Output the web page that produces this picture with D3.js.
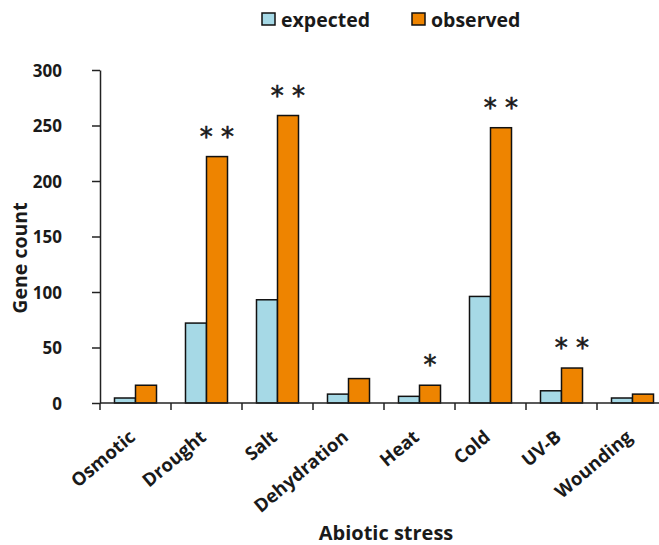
<!DOCTYPE html>
<html lang="en">
<head>
<meta charset="utf-8">
<title>Gene count by abiotic stress</title>
<script src="https://d3js.org/d3.v7.min.js"></script>
<style>
  body { margin: 0; background: #fff; }
  text { font-family: "Open Sans", sans-serif; font-weight: bold; fill: #1a1a1a; }
  .axis path, .axis line { stroke: #222; stroke-width: 1.5px; }
</style>
</head>
<body>
<div id="chart"></div>
<script>
// data
const categories = ["Osmotic", "Drought", "Salt", "Dehydration", "Heat", "Cold", "UV-B", "Wounding"];
const expected = [4.5, 72, 93, 8, 6, 96, 11, 4.5];
const observed = [16, 222, 259, 22, 16, 248, 31.5, 8];
const stars = ["", "* *", "* *", "", "*", "* *", "* *", ""];
const yTicks = [0, 50, 100, 150, 200, 250, 300];
const seriesNames = ["expected", "observed"];
const colors = { expected: "#a6d9e6", observed: "#ee8400" };

const W = 659, H = 545;
const plotLeft = 100, plotTop = 70, plotBottom = 403;

const svg = d3.select("#chart").append("svg")
  .attr("width", W).attr("height", H);

const x = d3.scaleBand()
  .domain(categories)
  .range([plotLeft, plotLeft + 71 * categories.length])
  .padding(0);

const xSub = d3.scaleBand()
  .domain(seriesNames)
  .range([0, x.bandwidth()])
  .paddingInner(0)
  .paddingOuter(0.69);

const y = d3.scaleLinear().domain([0, 300]).range([plotBottom, plotTop]);

const rows = categories.map((c, i) => ({ cat: c, expected: expected[i], observed: observed[i], star: stars[i] }));

// bars
const groups = svg.append("g").selectAll("g")
  .data(rows).join("g")
  .attr("transform", d => `translate(${x(d.cat)},0)`);

groups.selectAll("rect")
  .data(d => seriesNames.map(k => ({ key: k, value: d[k] })))
  .join("rect")
  .attr("x", d => xSub(d.key))
  .attr("y", d => y(d.value))
  .attr("width", xSub.bandwidth())
  .attr("height", d => y(0) - y(d.value))
  .attr("fill", d => colors[d.key])
  .attr("stroke", "#111")
  .attr("stroke-width", 1.5);

// significance stars above the observed bar
groups.append("text")
  .attr("x", xSub("observed") + xSub.bandwidth() / 2)
  .attr("y", d => y(d.observed) - 11)
  .attr("text-anchor", "middle")
  .style("font-family", "DejaVu Sans, sans-serif")
  .style("font-weight", "normal")
  .style("font-size", "26px")
  .style("stroke", "#1a1a1a")
  .style("stroke-width", 0.6)
  .text(d => d.star);

// y axis
const yAxis = svg.append("g")
  .attr("class", "axis")
  .attr("transform", `translate(${plotLeft},0)`)
  .call(d3.axisLeft(y).tickValues(yTicks).tickSize(8).tickSizeOuter(0).tickPadding(30));
yAxis.selectAll("text").style("font-size", "17px").attr("dy", "0.36em");

// x axis: line + ticks at category boundaries
const xAxis = svg.append("g")
  .attr("class", "axis")
  .attr("transform", `translate(0,${plotBottom})`);
xAxis.append("path")
  .attr("d", `M${x.range()[0]},0H${x.range()[1]}`)
  .attr("fill", "none");
const bounds = categories.map(c => x(c)).concat([x.range()[1]]);
xAxis.selectAll("line.tk")
  .data(bounds).join("line")
  .attr("class", "tk")
  .attr("x1", d => d).attr("x2", d => d)
  .attr("y1", 0).attr("y2", 7);

// category labels
xAxis.selectAll("text.cat")
  .data(categories).join("text")
  .attr("class", "cat")
  .attr("text-anchor", "end")
  .attr("transform", d => `translate(${x(d) + x.bandwidth() / 2 + 1},36) rotate(-40)`)
  .style("font-size", "18.5px")
  .text(d => d);

// axis titles
svg.append("text")
  .attr("transform", `translate(27,258) rotate(-90)`)
  .attr("text-anchor", "middle")
  .style("font-size", "19.5px")
  .text("Gene count");

svg.append("text")
  .attr("x", 386).attr("y", 540)
  .attr("text-anchor", "middle")
  .style("font-size", "20px")
  .text("Abiotic stress");

// legend
const legendX = [262, 412];
const legend = svg.append("g").selectAll("g")
  .data(seriesNames).join("g")
  .attr("transform", (d, i) => `translate(${legendX[i]},13)`);
legend.append("rect")
  .attr("width", 13).attr("height", 12)
  .attr("fill", d => colors[d])
  .attr("stroke", "#111").attr("stroke-width", 1.5);
legend.append("text")
  .attr("x", 19).attr("y", 14)
  .style("font-size", "19.5px")
  .text(d => d);
</script>
</body>
</html>
